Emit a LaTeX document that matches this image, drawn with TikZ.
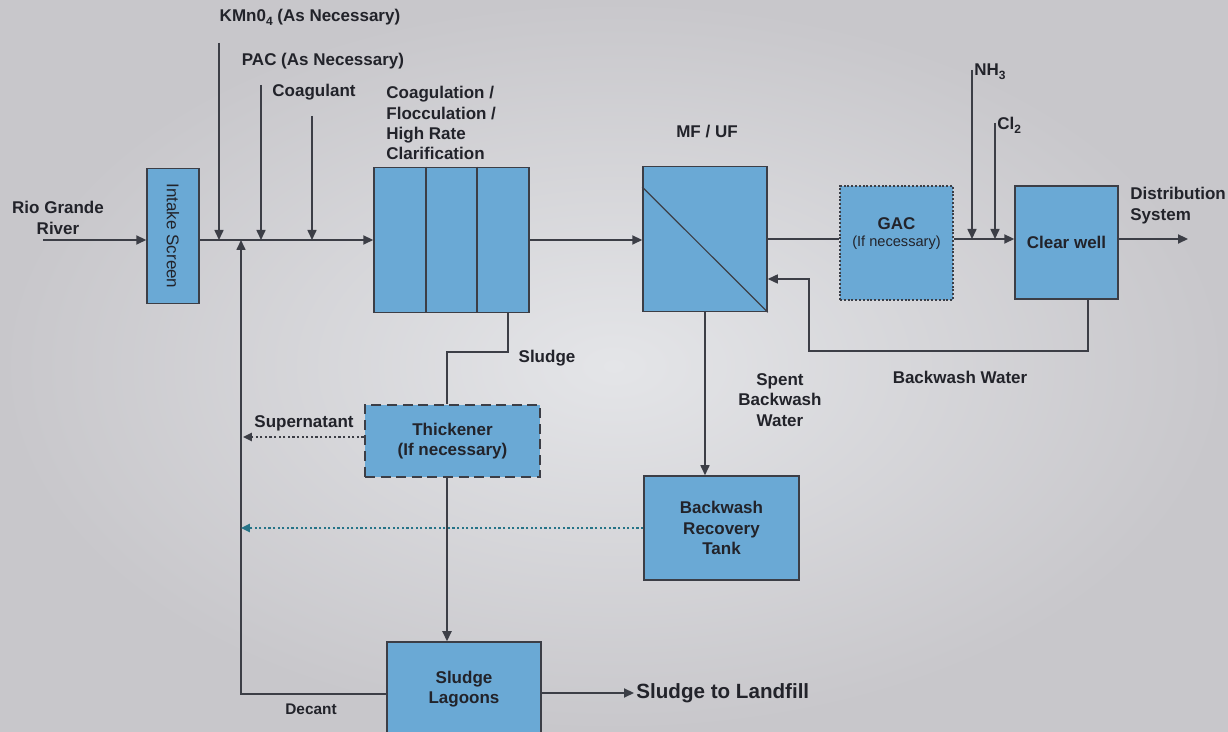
\documentclass[tikz,border=0pt]{standalone}
\usepackage{fontspec}
\setmainfont{Liberation Sans}
\usetikzlibrary{arrows.meta,calc}
\definecolor{bgin}{RGB}{228,229,232}
\definecolor{bgout}{RGB}{200,199,203}
\definecolor{boxfill}{RGB}{106,169,213}
\definecolor{edge}{RGB}{60,62,70}
\definecolor{ink}{RGB}{34,35,42}
\definecolor{tealarr}{RGB}{38,116,136}
\newcommand{\sbs}[1]{\raisebox{-0.45ex}{\fontsize{6}{6}\selectfont #1}}
\tikzset{
  txt/.style={font=\fontsize{8.5}{10.2}\selectfont\bfseries, text=ink, inner sep=0pt, align=center},
  unit/.style={draw=edge, line width=0.75pt, fill=boxfill, inner sep=0pt, txt},
  flow/.style={draw=edge, line width=1.1pt, -{Triangle[length=5pt,width=4.5pt]}},
  chem/.style={draw=edge, line width=0.8pt, -{Triangle[length=5pt,width=4.5pt]}},
  thinline/.style={draw=edge, line width=0.6pt},
  thinflow/.style={draw=edge, line width=0.7pt, -{Triangle[length=5pt,width=4.5pt]}},
  dotflow/.style={draw=edge, line width=1pt, dash pattern=on 1.1pt off 1.2pt, -{Triangle[length=4.4pt,width=4pt]}},
  gacbox/.style={dash pattern=on 1pt off 0.9pt, line width=1.2pt},
  thickbox/.style={dash pattern=on 5pt off 2.8pt, line width=1.4pt}
}
\begin{document}
\begin{tikzpicture}[x=0.5pt,y=-0.5pt]
\clip (0,0) rectangle (1228,732);
\shade[inner color=bgin, outer color=bgout] (0,0) rectangle (1228,732);

% units
\node[unit, minimum width=26pt, minimum height=67.5pt] (intake) at (173,236) {};
\node[txt, font=\fontsize{8.5}{10.2}\selectfont\mdseries, rotate=-90] (intakelbl) at (intake) {Intake Screen};
\node[unit, minimum width=77.5pt, minimum height=72.5pt] (clar) at (451.5,240) {};
\foreach \xx in {426,477} \draw[thinline] (clar.north -| \xx,0) -- (clar.south -| \xx,0);
\node[unit, minimum width=62pt, minimum height=72.5pt] (mf) at (705,239) {};
\draw[thinline] ($(mf.north west)!0.145!(mf.south west)$) -- (mf.south east);
\node[unit, gacbox, minimum width=56.5pt, minimum height=57pt] (gac) at (896.5,243) {};
\node[txt] (gaclbl) at ($(gac)+(0,-19)$) {GAC};
\node[txt, font=\fontsize{7.3}{9}\selectfont\mdseries] (gacsub) at ($(gac)+(0,0)$) {(If necessary)};
\node[unit, minimum width=51.5pt, minimum height=56.5pt] (cw) at (1066.5,242.5) {Clear well};
\node[unit, thickbox, minimum width=87.5pt, minimum height=36pt] (thick) at (452.5,441) {Thickener\\(If necessary)};
\node[unit, minimum width=77.5pt, minimum height=52pt] (brt) at (721.5,528) {Backwash\\Recovery\\Tank};
\node[unit, minimum width=77pt, minimum height=47pt] (lag) at (464,689) {Sludge\\Lagoons};

% coordinates
\coordinate (rio) at (43,240);
\coordinate (k) at (219,43);
\coordinate (p) at (261,85);
\coordinate (c) at (312,116);
\coordinate (rc) at (241,694);
\coordinate (ds) at (1188,239);
\coordinate (n) at (972,70);
\coordinate (cl) at (995,123);
\coordinate (b1) at (1088,351);
\coordinate (b2) at (809,279);
\coordinate (s1) at (508,352);
\coordinate (tx) at (447,405);
\coordinate (sn) at (243,437);
\coordinate (lf) at (634,693);

% main flow
\draw[flow] (rio) -- (rio -| intake.west);
\draw[flow] (rio -| intake.east) -- (rio -| clar.west);
\draw[chem] (k) -- (k |- rio);
\draw[chem] (p) -- (p |- rio);
\draw[chem] (c) -- (c |- rio);
\draw[flow] (clar.east) -- (clar.east -| mf.west);
\draw[thinline] (mf.east |- ds) -- (ds -| gac.west);
\draw[flow] (ds -| gac.east) -- (ds -| cw.west);
\draw[chem] (n) -- (n |- ds);
\draw[chem] (cl) -- (cl |- ds);
\draw[flow] (cw.east |- ds) -- (ds);

% backwash
\draw[thinflow] (cw.south -| b1) |- (b2 |- b1) -- (b2) -- (b2 -| mf.east);
\draw[chem] (mf.south) -- (mf.south |- brt.north);

% sludge
\draw[thinline] (clar.south -| s1) -- (s1) -| (tx |- thick.north);
\draw[flow] (tx |- thick.south) -- (tx |- lag.north);
\draw[flow] (lag.east |- lf) -- (lf);

% recycle
\draw[chem] (lag.west |- rc) -- (rc) -- (rc |- rio);
\draw[dotflow] (thick.west |- sn) -- (sn);
\draw[dotflow, draw=tealarr] (brt.west) -- (brt.west -| rc);

% labels
\node[txt] (lrio) at (58,218) {Rio Grande\\River};
\node[txt] (lk) at (310,17) {KMn0\sbs{4} (As Necessary)};
\node[txt] (lp) at (323,61) {PAC (As Necessary)};
\node[txt] (lc) at (314,92) {Coagulant};
\node[txt, align=left, anchor=north west] (lclar) at (386,86) {Coagulation /\\Flocculation /\\High Rate\\Clarification};
\node[txt] (lmf) at (707,132) {MF / UF};
\node[txt, anchor=west] (ln) at (974,72) {NH\sbs{3}};
\node[txt, anchor=west] (lcl) at (997,125) {Cl\sbs{2}};
\node[txt, align=left, anchor=north west] (ldist) at (1130,187) {Distribution\\System};
\node[txt] (lbw) at (960,377) {Backwash Water};
\node[txt] (lsl) at (547,358) {Sludge};
\node[txt] (lspent) at (780,400) {Spent\\Backwash\\Water};
\node[txt] (lsup) at (304,423) {Supernatant};
\node[txt, font=\fontsize{7.7}{9}\selectfont\bfseries] (ldec) at (311,709) {Decant};
\node[txt, anchor=west, font=\fontsize{10.3}{12}\selectfont\bfseries] (llf) at ($(lf)+(2,0)$) {Sludge to Landfill};
\end{tikzpicture}
\end{document}
